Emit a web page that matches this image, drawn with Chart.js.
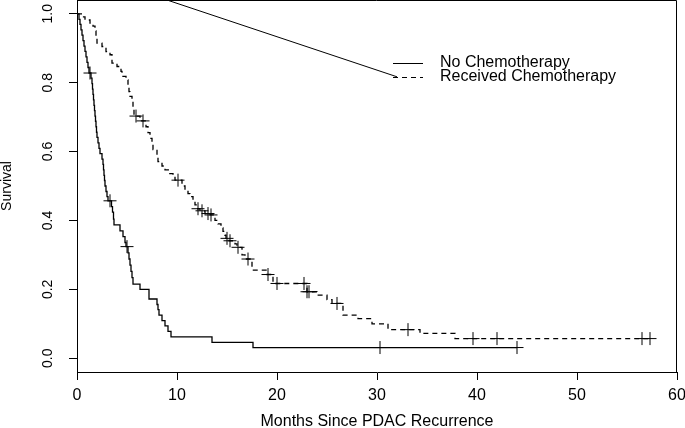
<!DOCTYPE html>
<html>
<head>
<meta charset="utf-8">
<script src="https://cdn.jsdelivr.net/npm/chart.js@4.4.1/dist/chart.umd.min.js"></script>
<style>
    html, body { margin: 0; padding: 0; background: #fff; }
    #chart { display: block; }
</style>
</head>
<body>
<canvas id="chart" width="685" height="428"></canvas>
<script>
    // Kaplan-Meier estimates (months, survival)
    const noChemoTime = [0, 0.2, 0.3, 0.4, 0.5, 0.6, 0.7, 0.8, 0.9, 1.0, 1.1, 1.2,
        1.4, 1.5, 1.55, 1.6, 1.65, 1.7, 1.75, 1.8, 1.85, 1.9, 1.95, 2.0,
        2.1, 2.2, 2.3, 2.5, 2.6, 2.65, 2.7, 2.75, 2.8, 2.9, 3.0, 3.1,
        3.45, 3.55, 3.65, 3.7, 4.3, 4.6, 4.8, 4.9,
        5.1, 5.2, 5.3, 5.4, 5.5, 5.6, 6.3, 7.2,
        8.0, 8.1, 8.2, 8.5, 8.8, 9.1, 9.4, 13.5, 17.6, 44.0];
    const noChemoSurv = [1.0, 0.984, 0.969, 0.953, 0.938, 0.922, 0.906, 0.891, 0.875, 0.859, 0.844, 0.828,
        0.813, 0.797, 0.781, 0.766, 0.750, 0.734, 0.719, 0.703, 0.688, 0.672, 0.656, 0.641,
        0.625, 0.609, 0.594, 0.578, 0.563, 0.547, 0.531, 0.516, 0.500, 0.484, 0.469, 0.457,
        0.440, 0.424, 0.404, 0.387, 0.370, 0.353, 0.336, 0.324,
        0.306, 0.288, 0.270, 0.252, 0.234, 0.215, 0.200, 0.172,
        0.156, 0.141, 0.125, 0.109, 0.094, 0.078, 0.062, 0.046, 0.031, 0.031];
    const noChemoCensorTime = [1.3, 3.3, 5.0, 30.3, 44.0];
    const noChemoCensorSurv = [0.828, 0.457, 0.324, 0.031, 0.031];

    const chemoTime = [0, 0.5, 0.8, 1.3, 1.6, 1.8, 1.9, 2.0, 2.5, 2.9,
        3.3, 3.5, 4.0, 4.4, 4.5, 4.9, 5.1, 5.2, 5.3, 5.5,
        5.6, 5.7, 6.3, 6.9, 7.1, 7.3, 7.5, 7.6, 8.0, 8.1,
        8.5, 8.8, 9.2, 9.6, 9.8, 10.5, 10.8, 11.1, 11.3, 11.6,
        11.8, 12.0, 12.3, 12.8, 13.3, 13.8, 14.1, 14.4, 14.6, 14.8,
        14.9, 15.2, 15.8, 16.0, 16.5, 16.8, 17.5, 19.0, 19.6, 23.0,
        24.0, 25.0, 25.5, 26.6, 28.1, 29.5, 31.1, 34.3, 37.8, 57.3];
    const chemoSurv = [1.0, 0.991, 0.982, 0.973, 0.964, 0.950, 0.932, 0.915, 0.905, 0.890,
        0.881, 0.857, 0.847, 0.833, 0.818, 0.808, 0.790, 0.774, 0.760, 0.745,
        0.730, 0.703, 0.689, 0.672, 0.655, 0.638, 0.622, 0.606, 0.589, 0.571,
        0.558, 0.547, 0.536, 0.527, 0.517, 0.500, 0.488, 0.478, 0.469, 0.457,
        0.445, 0.434, 0.428, 0.420, 0.416, 0.400, 0.390, 0.378, 0.368, 0.357,
        0.348, 0.341, 0.332, 0.322, 0.300, 0.288, 0.256, 0.243, 0.217, 0.193,
        0.183, 0.170, 0.159, 0.125, 0.115, 0.100, 0.083, 0.072, 0.057, 0.057];
    const chemoCensorTime = [5.9, 6.6, 10.1, 12.1, 12.5, 13.1, 13.4, 15.0, 15.3, 16.1, 17.1,
        19.1, 20.0, 22.7, 23.0, 23.2, 26.0, 33.1, 39.6, 42.0, 56.5, 57.3];
    const chemoCensorSurv = [0.703, 0.689, 0.517, 0.434, 0.428, 0.420, 0.416, 0.348, 0.341, 0.322, 0.288,
        0.243, 0.217, 0.217, 0.193, 0.193, 0.159, 0.083, 0.057, 0.057, 0.057, 0.057];

    // stray legend leader line seen in the original
    const strayTime = [9.0, 32.0];
    const straySurv = [1.04, 0.817];

    const xTicks = [0, 10, 20, 30, 40, 50, 60];
    const yTicks = [0, 0.2, 0.4, 0.6, 0.8, 1.0];
    const seriesNames = ['No Chemotherapy', 'Received Chemotherapy'];

    const pts = (xs, ys) => xs.map((x, i) => ({ x: x, y: ys[i] }));
    const dash = [5, 4];
    const family = '"Liberation Sans", Arial, sans-serif';

    // draws the frame and the little legend
    const framePlugin = {
        id: 'frame',
        afterDraw(chart) {
            const { ctx, chartArea: a } = chart;
            ctx.save();
            ctx.strokeStyle = '#000';
            ctx.lineWidth = 1;
            ctx.beginPath();
            ctx.moveTo(a.left, a.top + 0.5);
            ctx.lineTo(a.right - 0.5, a.top + 0.5);
            ctx.lineTo(a.right - 0.5, a.bottom);
            ctx.stroke();

            const lx = 393, ly = 63, gap = 14;
            ctx.font = '16px ' + family;
            ctx.fillStyle = '#000';
            ctx.textBaseline = 'middle';
            seriesNames.forEach((name, i) => {
                const y = ly + i * gap;
                ctx.setLineDash(i === 1 ? dash : []);
                ctx.beginPath();
                ctx.moveTo(lx, y + 0.5);
                ctx.lineTo(lx + 30, y + 0.5);
                ctx.stroke();
                ctx.fillText(name, lx + 47, y);
            });
            ctx.restore();
        }
    };

    new Chart(document.getElementById('chart'), {
        type: 'scatter',
        data: {
            datasets: [
                { data: pts(noChemoTime, noChemoSurv), showLine: true, stepped: 'before',
                  borderColor: '#000', borderWidth: 1.3, pointRadius: 0 },
                { data: pts(chemoTime, chemoSurv), showLine: true, stepped: 'before',
                  borderColor: '#000', borderWidth: 1.3, borderDash: dash, pointRadius: 0 },
                { data: pts(noChemoCensorTime, noChemoCensorSurv), showLine: false,
                  pointStyle: 'cross', pointRadius: 6.5, borderColor: '#000', borderWidth: 1 },
                { data: pts(chemoCensorTime, chemoCensorSurv), showLine: false,
                  pointStyle: 'cross', pointRadius: 6.5, borderColor: '#000', borderWidth: 1 },
                { data: pts(strayTime, straySurv), showLine: true,
                  borderColor: '#000', borderWidth: 1, pointRadius: 0 }
            ]
        },
        options: {
            responsive: false,
            animation: false,
            layout: { padding: 0, autoPadding: false },
            plugins: { legend: { display: false }, tooltip: { enabled: false } },
            scales: {
                x: {
                    type: 'linear', min: 0, max: 60,
                    afterBuildTicks: (s) => { s.ticks = xTicks.map(v => ({ value: v })); },
                    afterFit: (s) => { s.height = 56; s.paddingLeft = 0; s.paddingRight = 8; },
                    ticks: { color: '#000', font: { family: family, size: 16 }, padding: 6, maxRotation: 0 },
                    grid: { drawOnChartArea: false, drawTicks: true, tickLength: 8, color: '#000' },
                    border: { color: '#000', width: 1 },
                    title: { display: true, text: 'Months Since PDAC Recurrence', color: '#000',
                             font: { family: family, size: 16 }, padding: { top: 0, bottom: -3 } }
                },
                y: {
                    type: 'linear', min: -0.04, max: 1.04,
                    afterBuildTicks: (s) => { s.ticks = yTicks.map(v => ({ value: v })); },
                    afterFit: (s) => { s.width = 77; s.paddingTop = 0; s.paddingBottom = 0; },
                    ticks: { color: '#000', font: { family: family, size: 14 }, padding: 11,
                             minRotation: 90, maxRotation: 90, crossAlign: 'center',
                             callback: (v) => v.toFixed(1) },
                    grid: { drawOnChartArea: false, drawTicks: true, tickLength: 8, color: '#000' },
                    border: { color: '#000', width: 1 },
                    title: { display: true, text: 'Survival', color: '#000',
                             font: { family: family, size: 14 }, padding: { top: -1, bottom: 0 } }
                }
            }
        },
        plugins: [framePlugin]
    });
</script>
</body>
</html>
